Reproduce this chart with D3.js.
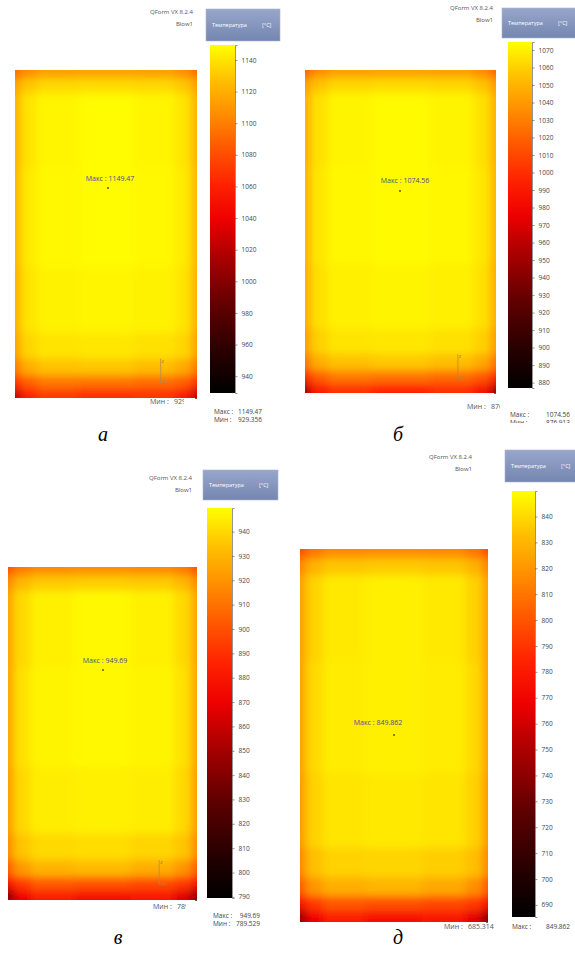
<!DOCTYPE html>
<html>
<head>
<meta charset="utf-8">
<script src="https://cdn.jsdelivr.net/npm/d3@7"></script>
<style>
  body { margin: 0; background: #fff; }
  svg { display: block; font-family: "Open Sans", sans-serif; }
</style>
</head>
<body>
<div id="chart"></div>
<script>
'use strict';

// ---- data ----
const panelLetters = ['а', 'б', 'в', 'д'];
const maxValues = [1149.47, 1074.56, 949.69, 849.862];
const minValues = [929.356, 876.913, 789.529, 685.314];

const ticksA = [940, 960, 980, 1000, 1020, 1040, 1060, 1080, 1100, 1120, 1140];
const ticksB = [880, 890, 900, 910, 920, 930, 940, 950, 960, 970, 980, 990, 1000,
                1010, 1020, 1030, 1040, 1050, 1060, 1070];
const ticksC = [790, 800, 810, 820, 830, 840, 850, 860, 870, 880, 890, 900, 910,
                920, 930, 940];
const ticksD = [690, 700, 710, 720, 730, 740, 750, 760, 770, 780, 790, 800, 810,
                820, 830, 840];

// sample positions across the billet (relative width / height)
const colEdges = [0, 0.03, 0.12, 0.35, 0.65, 0.88, 0.97, 1];
const rowEdges = [0, 0.025, 0.07, 0.3, 0.6, 0.8, 0.88, 0.93, 0.97, 1];

// temperature field, rows top -> bottom
const fieldA = [
  [1092, 1106, 1113, 1114, 1113, 1106, 1092],
  [1114, 1130, 1136, 1137, 1136, 1130, 1114],
  [1120, 1140, 1146, 1148, 1146, 1140, 1120],
  [1121, 1142, 1147, 1148, 1147, 1142, 1121],
  [1119, 1140, 1145, 1146, 1145, 1140, 1119],
  [1114, 1135, 1140, 1141, 1139, 1135, 1114],
  [1098, 1120, 1128, 1130, 1126, 1118, 1098],
  [1066, 1088, 1098, 1096, 1093, 1088, 1066],
  [1025, 1062, 1072, 1066, 1070, 1056, 1025],
];
const fieldB = [
  [1020, 1035, 1042, 1043, 1042, 1035, 1020],
  [1041, 1056, 1062, 1063, 1062, 1056, 1041],
  [1048, 1065, 1071, 1073, 1071, 1065, 1048],
  [1049, 1067, 1072, 1073, 1072, 1067, 1049],
  [1047, 1065, 1070, 1071, 1070, 1065, 1047],
  [1041, 1060, 1066, 1067, 1065, 1060, 1041],
  [1026, 1048, 1055, 1057, 1054, 1046, 1026],
  [996, 1018, 1028, 1026, 1023, 1016, 996],
  [955, 992, 1002, 996, 1000, 986, 955],
];
const fieldC = [
  [900, 912, 917, 918, 917, 912, 900],
  [917, 931, 936, 937, 936, 931, 917],
  [924, 940, 946, 948, 946, 940, 924],
  [924, 942, 947, 948, 947, 942, 924],
  [922, 940, 945, 946, 945, 940, 922],
  [917, 935, 940, 941, 939, 935, 917],
  [903, 922, 930, 932, 928, 920, 903],
  [876, 893, 903, 901, 898, 893, 876],
  [840, 872, 882, 876, 880, 866, 840],
];
const fieldD = [
  [798, 810, 816, 817, 816, 810, 798],
  [815, 829, 835, 836, 835, 829, 815],
  [822, 838, 844, 846, 844, 838, 822],
  [822, 840, 845, 846, 845, 840, 822],
  [820, 838, 843, 844, 843, 838, 820],
  [815, 833, 838, 839, 837, 833, 815],
  [801, 820, 828, 830, 826, 818, 801],
  [775, 791, 801, 799, 796, 791, 775],
  [740, 770, 780, 775, 778, 765, 740],
];

// colour map of the legend (fraction of range -> colour)
const cmapStops = [0, 0.1, 0.25, 0.4, 0.5, 0.6, 0.7, 0.8, 0.9, 1];
const cmapColors = ['#000000', '#220000', '#600000', '#b00000', '#ee0000',
                    '#ff2200', '#ff5500', '#ff8c00', '#ffc000', '#ffff00'];

// ---- layout ----
const LAYOUT = [
  { field: fieldA, ticks: ticksA, glyph: true,
    rect: [15, 70, 182, 328], bar: [210, 45, 25, 348], box: [206, 9, 74, 32],
    qform: [193, 14], maxLbl: [110, 181], dot: [108, 188], minLbl: [150, 404, 184],
    foot: [214, 262, 414], footClip: 430, letter: [103, 441] },
  { field: fieldB, ticks: ticksB, glyph: true,
    rect: [305, 70, 191, 323], bar: [508, 42, 24, 346], box: [502, 8, 76, 30],
    qform: [493, 10], maxLbl: [405, 183], dot: [400, 191], minLbl: [467, 409, 500],
    foot: [510, 570, 417], footClip: 423, letter: [398, 441] },
  { field: fieldC, ticks: ticksC, glyph: true,
    rect: [8, 567, 189, 333], bar: [207, 508, 25, 390], box: [203, 470, 75, 30],
    qform: [192, 480], maxLbl: [105, 663], dot: [103, 670], minLbl: [153, 909, 186],
    foot: [213, 260, 918], footClip: 935, letter: [118, 944] },
  { field: fieldD, ticks: ticksD, glyph: false,
    rect: [300, 549, 188, 373], bar: [512, 491, 23, 426], box: [505, 450, 72, 32],
    qform: [472, 459], maxLbl: [378, 725], dot: [394, 735], minLbl: [444, 929, 575],
    foot: [512, 570, 929], footClip: 932, letter: [398, 944] },
];

const svg = d3.select('#chart').append('svg')
  .attr('width', 575)
  .attr('height', 956);

const defs = svg.append('defs');
defs.append('filter').attr('id', 'soft')
  .attr('x', '-10%').attr('y', '-10%').attr('width', '120%').attr('height', '120%')
  .append('feGaussianBlur').attr('stdDeviation', 4.5);

const boxGrad = defs.append('linearGradient').attr('id', 'boxGrad')
  .attr('x1', 0).attr('y1', 0).attr('x2', 0).attr('y2', 1);
boxGrad.append('stop').attr('offset', 0).attr('stop-color', '#98a6cb');
boxGrad.append('stop').attr('offset', 1).attr('stop-color', '#7486b0');

const cmap = d3.scaleLinear().domain(cmapStops).range(cmapColors).clamp(true);

function drawPanel(p, i) {
  const lo = minValues[i], hi = maxValues[i];
  const color = v => cmap((v - lo) / (hi - lo));
  const [rx, ry, rw, rh] = p.rect;
  const g = svg.append('g');

  // temperature field
  const xs = d3.scaleLinear().domain([0, 1]).range([rx, rx + rw]);
  const ys = d3.scaleLinear().domain([0, 1]).range([ry, ry + rh]);
  const clipId = 'clip' + i;
  defs.append('clipPath').attr('id', clipId)
    .append('rect').attr('x', rx).attr('y', ry).attr('width', rw).attr('height', rh);

  const cells = [];
  p.field.forEach((row, r) => row.forEach((v, c) => cells.push({ r, c, v })));
  const pad = 12;
  const nr = rowEdges.length - 2, nc = colEdges.length - 2;
  g.append('g').attr('clip-path', `url(#${clipId})`)
    .append('g').attr('filter', 'url(#soft)')
    .selectAll('rect').data(cells).join('rect')
      .attr('x', d => xs(colEdges[d.c]) - (d.c === 0 ? pad : 0))
      .attr('y', d => ys(rowEdges[d.r]) - (d.r === 0 ? pad : 0))
      .attr('width', d => xs(colEdges[d.c + 1]) - xs(colEdges[d.c])
        + (d.c === 0 ? pad : 0) + (d.c === nc ? pad : 0) + 0.5)
      .attr('height', d => ys(rowEdges[d.r + 1]) - ys(rowEdges[d.r])
        + (d.r === 0 ? pad : 0) + (d.r === nr ? pad : 0) + 0.5)
      .attr('fill', d => color(d.v));

  // max marker
  g.append('text')
    .attr('x', p.maxLbl[0]).attr('y', p.maxLbl[1])
    .attr('text-anchor', 'middle')
    .style('font-size', '7px').attr('fill', '#4a4a9a')
    .text('Макс : ' + maxValues[i]);
  g.append('circle').attr('cx', p.dot[0]).attr('cy', p.dot[1]).attr('r', 0.9)
    .attr('fill', '#6a3a2a');

  // small coordinate glyph near bottom right
  if (p.glyph) {
    const zx = rx + rw * 0.8, zy = ry + rh * 0.88;
    g.append('line').attr('x1', zx).attr('x2', zx).attr('y1', zy).attr('y2', zy + 24)
      .attr('stroke', '#b08a50').attr('stroke-width', 0.7);
    g.append('line').attr('x1', zx).attr('x2', zx + 8).attr('y1', zy + 24).attr('y2', zy + 24)
      .attr('stroke', '#b08a50').attr('stroke-width', 0.7);
    g.append('text').attr('x', zx + 1).attr('y', zy + 4)
      .style('font-size', '4px').attr('fill', '#8a6a40').text('Z');
  }

  // min dot at corner
  g.append('circle').attr('cx', rx + rw - 1).attr('cy', ry + rh).attr('r', 1)
    .attr('fill', '#333');

  // min label next to the field, cut by the legend
  const mClip = 'mclip' + i;
  defs.append('clipPath').attr('id', mClip)
    .append('rect').attr('x', 0).attr('y', 0).attr('width', p.minLbl[2]).attr('height', 956);
  const ml = g.append('g').attr('clip-path', `url(#${mClip})`)
    .style('font-size', '7px').attr('fill', '#555');
  ml.append('text').attr('x', p.minLbl[0]).attr('y', p.minLbl[1]).text('Мин :');
  ml.append('text').attr('x', p.minLbl[0] + 24).attr('y', p.minLbl[1]).text(minValues[i]);

  // header
  g.append('text').attr('x', p.qform[0]).attr('y', p.qform[1])
    .attr('text-anchor', 'end').style('font-size', '6px').attr('fill', '#555')
    .text('QForm VX 8.2.4');
  g.append('text').attr('x', p.qform[0]).attr('y', p.qform[1] + 12)
    .attr('text-anchor', 'end').style('font-size', '6px').attr('fill', '#555')
    .text('Blow1');
  const [bx, by, bw, bh] = p.box;
  g.append('rect').attr('x', bx).attr('y', by).attr('width', bw).attr('height', bh)
    .attr('fill', 'url(#boxGrad)').attr('stroke', '#aab4d0').attr('stroke-width', 0.6);
  g.append('text').attr('x', bx + 6).attr('y', by + bh / 2 + 2)
    .style('font-size', '5.5px').attr('fill', '#fff').text('Температура');
  g.append('text').attr('x', bx + 56).attr('y', by + bh / 2 + 2)
    .style('font-size', '5.5px').attr('fill', '#fff').text('[°C]');

  // colour bar
  const [cx, cy, cw, ch] = p.bar;
  const gradId = 'bar' + i;
  const lg = defs.append('linearGradient').attr('id', gradId)
    .attr('x1', 0).attr('y1', 1).attr('x2', 0).attr('y2', 0);
  cmapStops.forEach((s, k) => lg.append('stop')
    .attr('offset', s).attr('stop-color', cmapColors[k]));
  g.append('rect').attr('x', cx).attr('y', cy).attr('width', cw).attr('height', ch)
    .attr('fill', `url(#${gradId})`);

  const yScale = d3.scaleLinear().domain([lo, hi]).range([cy + ch, cy]);
  const axis = g.append('g').attr('transform', `translate(${cx + cw},0)`)
    .call(d3.axisRight(yScale).tickValues(p.ticks).tickSize(2.5).tickPadding(4)
      .tickFormat(d3.format('d')));
  axis.select('.domain').attr('stroke', '#666').attr('stroke-width', 0.7);
  axis.selectAll('.tick line').attr('stroke', '#666').attr('stroke-width', 0.7);
  axis.selectAll('.tick text').style('font-size', '6.5px').attr('fill', '#444')
    .style('font-family', '"Open Sans", sans-serif');

  // footer
  const fClip = 'fclip' + i;
  defs.append('clipPath').attr('id', fClip)
    .append('rect').attr('x', 0).attr('y', 0).attr('width', 575).attr('height', p.footClip);
  const foot = g.append('g').attr('clip-path', `url(#${fClip})`)
    .style('font-size', '6.5px').attr('fill', '#444');
  foot.append('text').attr('x', p.foot[0]).attr('y', p.foot[2]).text('Макс :');
  foot.append('text').attr('x', p.foot[1]).attr('y', p.foot[2])
    .attr('text-anchor', 'end').text(maxValues[i]);
  foot.append('text').attr('x', p.foot[0]).attr('y', p.foot[2] + 8).text('Мин :');
  foot.append('text').attr('x', p.foot[1]).attr('y', p.foot[2] + 8)
    .attr('text-anchor', 'end').text(minValues[i]);

  // panel letter
  svg.append('text').attr('x', p.letter[0]).attr('y', p.letter[1])
    .attr('text-anchor', 'middle')
    .style('font-family', '"Liberation Serif", serif')
    .style('font-style', 'italic').style('font-size', '20px').attr('fill', '#000')
    .text(panelLetters[i]);
}

LAYOUT.forEach(drawPanel);
</script>
</body>
</html>
